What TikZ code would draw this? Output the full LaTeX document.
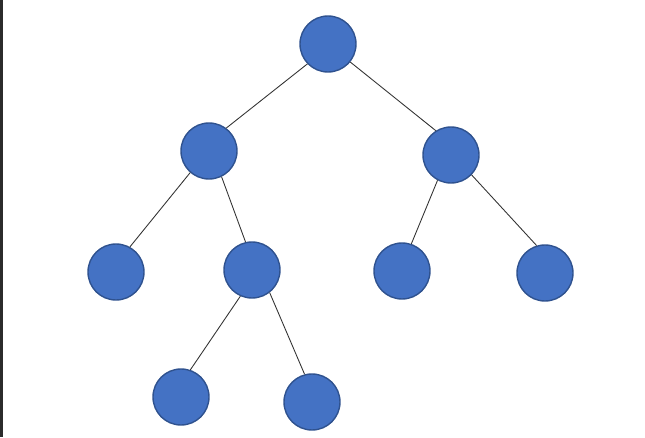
\documentclass[tikz,border=0pt]{standalone}
\usepackage{tikz}
\usetikzlibrary{positioning}
\definecolor{nodeblue}{HTML}{4472C4}
\definecolor{nodeedge}{HTML}{2F528F}
\definecolor{sidebar}{HTML}{2B2B2B}

\begin{document}
\begin{tikzpicture}[
  treenode/.style={circle, minimum size=1.12cm, inner sep=0pt, draw=nodeedge, line width=0.8pt, fill=nodeblue},
  branch/.style={draw=black!80, line width=0.5pt}
]
  \useasboundingbox (0,0) rectangle (12.9,8.74);
  \fill[sidebar] (0,0) rectangle (0.06,8.74);

  \node[treenode] (root) at (6.56,7.86) {};
  \node[treenode] (l)    at (4.18,5.72) {};
  \node[treenode] (r)    at (9.02,5.64) {};
  \node[treenode] (ll)   at (2.32,3.30) {};
  \node[treenode] (lr)   at (5.04,3.34) {};
  \node[treenode] (rl)   at (8.04,3.32) {};
  \node[treenode] (rr)   at (10.90,3.28) {};
  \node[treenode] (lrl)  at (3.62,0.80) {};
  \node[treenode] (lrr)  at (6.24,0.70) {};

  % connectors hook onto fixed points of the circles
  \draw[branch] (root.224) -- (l.53);
  \draw[branch] (root.321) -- (r.122);
  \draw[branch] (l.229) -- (ll.61);
  \draw[branch] (l.296) -- (lr.103);
  \draw[branch] (r.242) -- (rl.71);
  \draw[branch] (r.316) -- (rr.107);
  \draw[branch] (lr.246) -- (lrl.71);
  \draw[branch] (lr.308) -- (lrr.105);
\end{tikzpicture}
\end{document}
